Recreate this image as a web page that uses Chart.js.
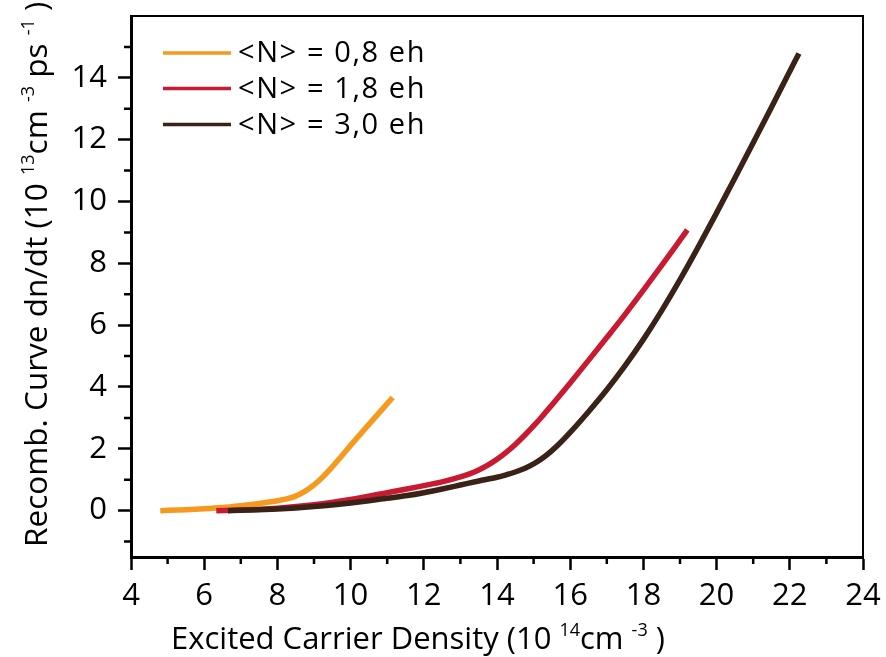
<!DOCTYPE html>
<html>
<head>
<meta charset="utf-8">
<script src="https://cdn.jsdelivr.net/npm/chart.js@4/dist/chart.umd.min.js"></script>
<style>
  html, body { margin: 0; padding: 0; background: #fff; }
  #wrap { width: 886px; height: 657px; }
</style>
</head>
<body>
<div id="wrap"><canvas id="c" width="886" height="657"></canvas></div>
<script>
// Series labels
const seriesLabels = ['<N> = 0,8 eh', '<N> = 1,8 eh', '<N> = 3,0 eh'];

// <N> = 0,8 eh
const densityA = [4.8, 5.5, 6.0, 6.5, 7.0, 7.5, 8.0, 8.25, 8.5, 8.75, 9.0, 9.25, 9.5, 9.75, 10.0, 10.5, 11.0, 11.15];
const rateA    = [0, 0.03, 0.06, 0.1, 0.16, 0.23, 0.32, 0.38, 0.47, 0.62, 0.83, 1.1, 1.42, 1.76, 2.11, 2.79, 3.46, 3.66];

// <N> = 1,8 eh
const densityB = [6.33, 7.0, 8.0, 9.0, 10.0, 11.0, 11.5, 12.0, 12.5, 13.0, 13.25, 13.5, 13.75, 14.0, 14.25, 14.5, 14.75, 15.0, 15.25, 15.5, 16.0, 16.5, 17.0, 17.5, 18.0, 18.5, 19.0, 19.2];
const rateB    = [0, 0.02, 0.08, 0.19, 0.36, 0.58, 0.69, 0.81, 0.93, 1.09, 1.19, 1.315, 1.47, 1.66, 1.885, 2.14, 2.43, 2.74, 3.07, 3.42, 4.13, 4.86, 5.6, 6.35, 7.13, 7.93, 8.75, 9.08];

// <N> = 3,0 eh
const densityC = [6.65, 7.0, 8.0, 9.0, 10.0, 10.5, 11.0, 11.5, 12.0, 12.5, 13.0, 13.5, 14.0, 14.25, 14.5, 14.75, 15.0, 15.25, 15.5, 15.75, 16.0, 16.5, 17.0, 17.5, 18.0, 18.5, 19.0, 19.5, 20.0, 20.5, 21.0, 21.5, 22.0, 22.25];
const rateC    = [0, 0.01, 0.05, 0.13, 0.25, 0.32, 0.4, 0.48, 0.58, 0.7, 0.83, 0.96, 1.08, 1.16, 1.25, 1.36, 1.51, 1.7, 1.94, 2.22, 2.53, 3.2, 3.91, 4.69, 5.54, 6.47, 7.47, 8.53, 9.63, 10.76, 11.9, 13.05, 14.21, 14.79];

// Axis ticks
const xMajorTicks = [4, 6, 8, 10, 12, 14, 16, 18, 20, 22, 24];
const xMinorTicks = [5, 7, 9, 11, 13, 15, 17, 19, 21, 23];
const yMajorTicks = [0, 2, 4, 6, 8, 10, 12, 14];
const yMinorTicks = [-1, 1, 3, 5, 7, 9, 11, 13, 15];

const colors = ['#F5991F', '#C81A30', '#3A2217'];
const FONT = 'Open Sans';

const toPoints = (xs, ys) => xs.map((x, i) => ({ x, y: ys[i] }));

// Text with superscript runs
function drawRich(ctx, parts, x, y, size) {
  let cx = x;
  for (const p of parts) {
    const s = p.sup ? Math.round(size * 0.58) : size;
    ctx.font = s + 'px "' + FONT + '"';
    ctx.fillText(p.t, cx, p.sup ? y - size * 0.42 : y);
    cx += ctx.measureText(p.t).width;
  }
}

const xTitle = [
  { t: 'Excited Carrier Density (10 ' }, { t: '14', sup: true }, { t: 'cm ' }, { t: '-3', sup: true }, { t: ' )' }
];
const yTitle = [
  { t: 'Recomb. Curve dn/dt (10 ' }, { t: '13', sup: true }, { t: 'cm ' }, { t: '-3', sup: true },
  { t: ' ps ' }, { t: '-1', sup: true }, { t: ' )' }
];

const decorations = {
  id: 'decorations',
  afterDraw(chart) {
    const { ctx, chartArea: a, scales: { x, y } } = chart;
    ctx.save();
    ctx.strokeStyle = '#000';
    ctx.lineCap = 'butt';

    // frame on top and right
    ctx.lineWidth = 2;
    ctx.beginPath();
    ctx.moveTo(a.left, a.top);
    ctx.lineTo(a.right, a.top);
    ctx.lineTo(a.right, a.bottom);
    ctx.stroke();

    // minor ticks
    ctx.lineWidth = 2.5;
    ctx.beginPath();
    for (const v of xMinorTicks) {
      const px = x.getPixelForValue(v);
      ctx.moveTo(px, a.bottom);
      ctx.lineTo(px, a.bottom + 7);
    }
    for (const v of yMinorTicks) {
      const py = y.getPixelForValue(v);
      ctx.moveTo(a.left, py);
      ctx.lineTo(a.left - 7, py);
    }
    ctx.stroke();

    // legend
    ctx.textBaseline = 'middle';
    ctx.textAlign = 'left';
    ctx.fillStyle = '#000';
    ctx.font = '29px "' + FONT + '"';
    ctx.letterSpacing = '1.6px';
    const rows = [53, 88.5, 124.5];
    seriesLabels.forEach((lab, i) => {
      ctx.strokeStyle = colors[i];
      ctx.lineWidth = 3.5;
      ctx.beginPath();
      ctx.moveTo(163, rows[i]);
      ctx.lineTo(231, rows[i]);
      ctx.stroke();
      ctx.fillText(lab, 238, rows[i] + 1);
    });
    ctx.letterSpacing = '0px';

    // axis titles
    ctx.textBaseline = 'alphabetic';
    drawRich(ctx, xTitle, 171, 649, 31);

    ctx.translate(47, 547);
    ctx.rotate(-Math.PI / 2);
    drawRich(ctx, yTitle, 0, 0, 31.5);
    ctx.restore();
  }
};

const tickFont = { family: FONT, size: 31 };

new Chart(document.getElementById('c'), {
  type: 'line',
  data: {
    datasets: [
      { label: seriesLabels[0], data: toPoints(densityA, rateA), borderColor: colors[0], order: 3 },
      { label: seriesLabels[1], data: toPoints(densityB, rateB), borderColor: colors[1], order: 2 },
      { label: seriesLabels[2], data: toPoints(densityC, rateC), borderColor: colors[2], order: 1 }
    ].map(d => Object.assign(d, {
      borderWidth: 5.5,
      pointRadius: 0,
      fill: false,
      cubicInterpolationMode: 'monotone',
      borderCapStyle: 'butt'
    }))
  },
  options: {
    responsive: false,
    animation: false,
    layout: { padding: { left: 0, right: 23, top: 16, bottom: 0 } },
    plugins: { legend: { display: false }, tooltip: { enabled: false } },
    scales: {
      x: {
        type: 'linear',
        min: 4, max: 24,
        afterBuildTicks(s) { s.ticks = xMajorTicks.map(v => ({ value: v })); },
        afterFit(s) { s.height = 100; s.paddingLeft = 0; s.paddingRight = 0; },
        ticks: { font: tickFont, color: '#000', padding: 8, maxRotation: 0, autoSkip: false },
        grid: { drawOnChartArea: false, drawTicks: true, tickLength: 13, tickWidth: 2.5, tickColor: '#000' },
        border: { display: true, color: '#000', width: 3 }
      },
      y: {
        type: 'linear',
        min: -1.5, max: 16,
        afterBuildTicks(s) { s.ticks = yMajorTicks.map(v => ({ value: v })); },
        afterFit(s) { s.width = 131; s.paddingTop = 0; s.paddingBottom = 0; },
        ticks: { font: tickFont, color: '#000', padding: 11, autoSkip: false },
        grid: { drawOnChartArea: false, drawTicks: true, tickLength: 13, tickWidth: 2.5, tickColor: '#000' },
        border: { display: true, color: '#000', width: 3 }
      }
    }
  },
  plugins: [decorations]
});
</script>
</body>
</html>
